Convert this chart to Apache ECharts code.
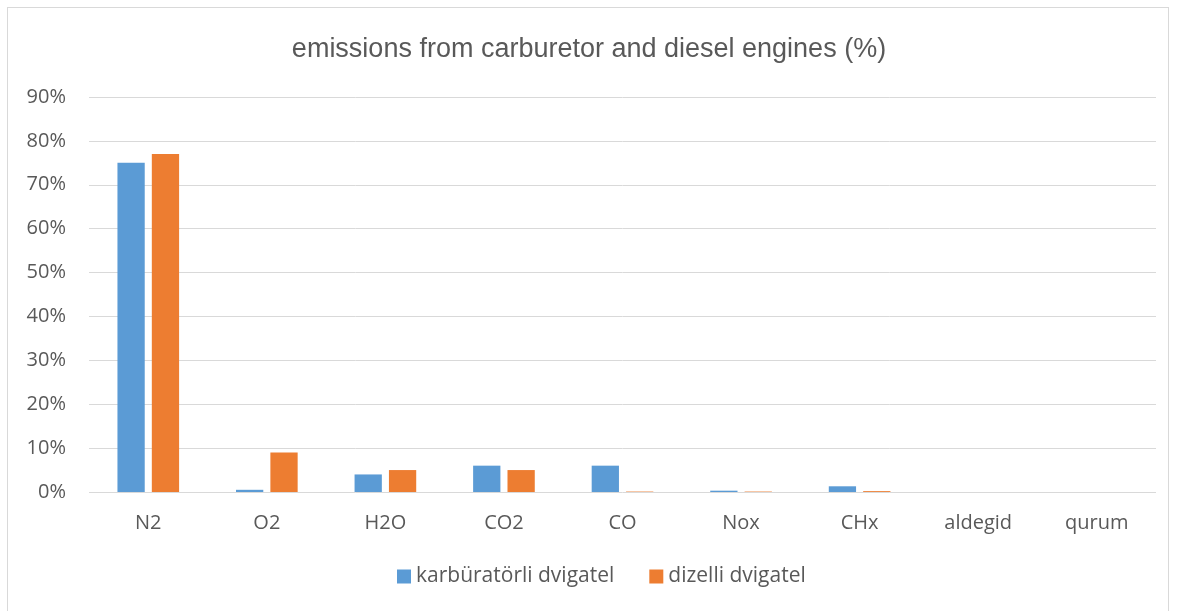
<!DOCTYPE html>
<html>
<head>
<meta charset="utf-8">
<script src="https://cdn.jsdelivr.net/npm/echarts@6/dist/echarts.min.js"></script>
<style>
  html, body { margin: 0; padding: 0; background: #fff; }
  #frame { position: absolute; left: 7px; top: 7px; width: 1162px; height: 610px; border: 1px solid #d9d9d9; box-sizing: border-box; }
  #main { width: 1178px; height: 611px; position: absolute; left: 0; top: 0; }
</style>
</head>
<body>
<div id="frame"></div>
<div id="main"></div>
<script>
// data (percent)
var categories = ['N2', 'O2', 'H2O', 'CO2', 'CO', 'Nox', 'CHx', 'aldegid', 'qurum']
var carburetor = [75, 0.5, 4, 6, 6, 0.3, 1.3, 0, 0]
var diesel = [77, 9, 5, 5, 0.1, 0.1, 0.2, 0, 0]
var seriesNames = ['karbüratörli dvigatel', 'dizelli dvigatel']

var myChart = echarts.init(document.getElementById('main'))
var textColor = '#595959'
var option = {
  title: {
    text: 'emissions from carburetor and diesel engines (%)',
    left: 'center',
    top: 31,
    textStyle: {
      color: textColor,
      fontSize: 27,
      fontWeight: 'normal',
      fontFamily: 'Liberation Sans'
    }
  },
  legend: {
    data: seriesNames,
    bottom: 19,
    left: 392,
    itemWidth: 14,
    itemHeight: 14,
    itemGap: 35,
    icon: 'rect',
    textStyle: { color: textColor, fontSize: 21, fontFamily: 'Open Sans' }
  },
  grid: {
    left: 89,
    right: 22,
    top: 97,
    bottom: 119
  },
  xAxis: {
    type: 'category',
    data: categories,
    axisLine: { show: false },
    axisTick: { show: false },
    axisLabel: { color: textColor, fontSize: 20, margin: 21, fontFamily: 'Open Sans' }
  },
  yAxis: {
    type: 'value',
    min: 0,
    max: 90,
    interval: 10,
    axisLine: { show: false },
    axisTick: { show: false },
    axisLabel: {
      color: textColor,
      fontSize: 20,
      margin: 23,
      fontFamily: 'Open Sans',
      formatter: '{value}%'
    },
    splitLine: { lineStyle: { color: '#d9d9d9', width: 1 } }
  },
  series: [{
    name: seriesNames[0],
    type: 'bar',
    data: carburetor,
    barGap: '26%',
    barCategoryGap: '48%',
    itemStyle: { color: '#5b9bd5' }
  }, {
    name: seriesNames[1],
    type: 'bar',
    data: diesel,
    itemStyle: { color: '#ed7d31' }
  }]
}
myChart.setOption(option, true)
</script>
</body>
</html>
